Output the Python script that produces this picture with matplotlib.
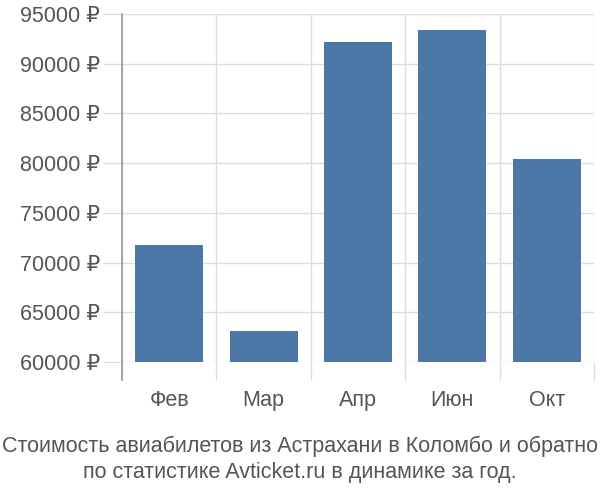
import matplotlib
matplotlib.use("Agg")
import matplotlib.pyplot as plt
from matplotlib.ticker import FuncFormatter, FixedLocator

categories = ["Фев", "Мар", "Апр", "Июн", "Окт"]
prices = [71800, 63150, 92200, 93370, 80390]
y_ticks = [60000, 65000, 70000, 75000, 80000, 85000, 90000, 95000]
title = "Стоимость авиабилетов из Астрахани в Коломбо и обратно\nпо статистике Avticket.ru в динамике за год."

plt.rcParams['font.family'] = ['Liberation Sans', 'DejaVu Sans']

fig = plt.figure(figsize=(6, 5), dpi=100)
ax = fig.add_axes([122/600, 1-362/500, (594-122)/600, (362-14)/500])

x = list(range(len(categories)))
ax.bar(x, [p - 60000 for p in prices], bottom=60000, width=0.72, color="#4C78A8", zorder=3)

ax.set_xlim(-0.5, len(categories) - 0.5)
ax.set_ylim(60000, 95000)
ax.set_yticks(y_ticks)
ax.yaxis.set_major_formatter(FuncFormatter(lambda v, p: f"{int(v)} ₽"))
ax.set_xticks(x)
ax.set_xticklabels(categories)
ax.xaxis.set_minor_locator(FixedLocator([i - 0.5 for i in range(len(categories) + 1)]))

ax.grid(True, axis='y', which='major', color='#dddddd', linewidth=1, zorder=0)
ax.grid(True, axis='x', which='minor', color='#dddddd', linewidth=1, zorder=0)
ax.grid(False, axis='x', which='major')

for s in ['top', 'right', 'bottom', 'left']:
    ax.spines[s].set_visible(False)
ax.axvline(-0.5, ymin=-18/348, ymax=1, color='#999999', linewidth=1.2, clip_on=False, zorder=4)

ax.tick_params(axis='y', which='major', length=14, color='#dddddd', width=1, pad=2,
               labelsize=15.5, labelcolor='#555555')
ax.tick_params(axis='x', which='major', length=0, pad=20, labelsize=15.5, labelcolor='#555555')
ax.tick_params(axis='x', which='minor', length=13, color='#dddddd', width=1)

fig.text(0.5, 1-459/500, title, ha='center', va='center', fontsize=15.5, color='#555555',
         family=['Liberation Sans Narrow', 'Liberation Sans', 'DejaVu Sans'], linespacing=1.3)

fig.savefig("out.png", dpi=100)
